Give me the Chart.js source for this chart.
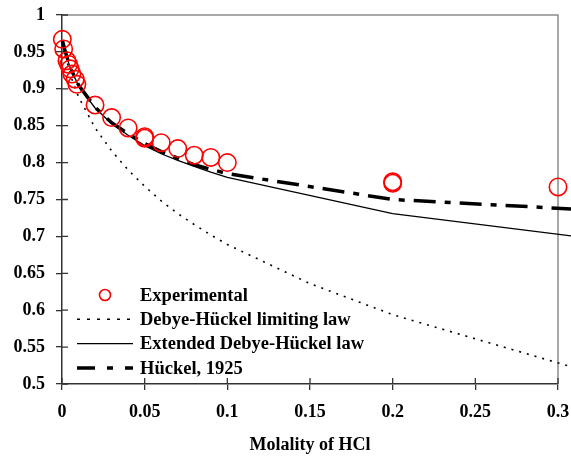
<!DOCTYPE html>
<html><head><meta charset="utf-8">
<script src="https://cdn.jsdelivr.net/npm/chart.js@4/dist/chart.umd.min.js"></script>
<style>html,body{margin:0;padding:0;background:#fff;overflow:hidden}#wrap{width:571px;height:459px;position:relative}</style>
</head><body><div id="wrap"><canvas id="c" width="571" height="459"></canvas></div>
<script>
// ---- data ----
const seriesNames = ["Experimental", "Debye-Hückel limiting law", "Extended Debye-Hückel law", "Hückel, 1925"];

const expMolality = [0.0002, 0.001, 0.003, 0.004, 0.005, 0.006, 0.008, 0.009, 0.02, 0.03, 0.04, 0.05, 0.05, 0.06, 0.07, 0.08, 0.09, 0.1, 0.2, 0.2, 0.3];
const expGamma    = [0.967, 0.954, 0.938, 0.933, 0.927, 0.920, 0.913, 0.906, 0.878, 0.861, 0.847, 0.835, 0.833, 0.827, 0.819, 0.810, 0.807, 0.800, 0.774, 0.772, 0.767];

const limitingMolality = [0.0002, 0.001, 0.002, 0.005, 0.01, 0.02, 0.03, 0.04, 0.05, 0.06, 0.07, 0.08, 0.09, 0.1, 0.15, 0.2, 0.31];
const limitingGamma    = [0.966, 0.958, 0.946, 0.919, 0.889, 0.847, 0.816, 0.790, 0.768, 0.748, 0.731, 0.716, 0.702, 0.689, 0.636, 0.594, 0.522];

const extendedMolality = [0.0002, 0.001, 0.002, 0.005, 0.01, 0.02, 0.03, 0.04, 0.05, 0.06, 0.07, 0.08, 0.09, 0.1, 0.2, 0.31];
const extendedGamma    = [0.966, 0.959, 0.950, 0.928, 0.904, 0.874, 0.853, 0.837, 0.823, 0.812, 0.803, 0.795, 0.787, 0.780, 0.731, 0.700];

const huckelMolality = [0.0002, 0.001, 0.002, 0.005, 0.01, 0.02, 0.03, 0.04, 0.05, 0.06, 0.07, 0.08, 0.09, 0.1, 0.2, 0.31];
const huckelGamma    = [0.966, 0.959, 0.950, 0.929, 0.905, 0.875, 0.854, 0.839, 0.826, 0.815, 0.806, 0.797, 0.791, 0.785, 0.750, 0.737];

const xTicks = [0, 0.05, 0.1, 0.15, 0.2, 0.25, 0.3];
const yTicks = [0.5, 0.55, 0.6, 0.65, 0.7, 0.75, 0.8, 0.85, 0.9, 0.95, 1];
const xTitle = "Molality of HCl";

// ---- chart ----
const pts = (xs, ys) => xs.map((x, i) => ({x: x, y: ys[i]}));
const FONT = '"Liberation Serif", "Times New Roman", serif';
const AXIS = '#333333';
const fmt = v => String(+v.toFixed(2));

const frame = {
  id: 'frame',
  beforeDatasetsDraw(chart) {
    const a = chart.chartArea, c = chart.ctx;
    c.save();
    c.strokeStyle = '#8c8c8c'; c.lineWidth = 1.5;
    c.beginPath();
    c.moveTo(a.left, a.top); c.lineTo(a.right, a.top); c.lineTo(a.right, a.bottom);
    c.stroke();
    // inner halves of the tick marks (ticks cross the axes)
    const xs = chart.scales.x, ys = chart.scales.y;
    c.strokeStyle = AXIS; c.lineWidth = 1.3;
    c.beginPath();
    xs.ticks.forEach(t => { const px = xs.getPixelForValue(t.value); c.moveTo(px, a.bottom); c.lineTo(px, a.bottom - 6); });
    ys.ticks.forEach(t => { const py = ys.getPixelForValue(t.value); c.moveTo(a.left, py); c.lineTo(a.left + 6, py); });
    c.stroke();
    c.restore();
  }
};

const innerLegend = {
  id: 'innerLegend',
  afterDraw(chart) {
    const a = chart.chartArea, c = chart.ctx;
    const x0 = a.left + 15, x1 = a.left + 71, tx = a.left + 78;
    let y = a.top + 280;
    c.save();
    c.font = 'bold 18.5px ' + FONT;
    c.textBaseline = 'middle';
    chart.data.datasets.forEach(d => {
      if (d.showLine === false) {
        c.beginPath(); c.strokeStyle = d.pointBorderColor; c.lineWidth = 1.6;
        c.arc((x0 + x1) / 2, y, 5.5, 0, Math.PI * 2); c.stroke();
      } else {
        c.beginPath(); c.strokeStyle = d.borderColor; c.lineWidth = d.borderWidth;
        c.setLineDash(d.legendDash || d.borderDash || []);
        c.moveTo(x0, y); c.lineTo(x1, y); c.stroke(); c.setLineDash([]);
      }
      c.fillStyle = '#000';
      c.fillText(d.label, tx, y + 1);
      y += 24.3;
    });
    c.restore();
  }
};

new Chart(document.getElementById('c'), {
  type: 'line',
  data: {
    datasets: [
      { label: seriesNames[0], data: pts(expMolality, expGamma), showLine: false,
        pointRadius: 8.7, pointHoverRadius: 8.7, pointBorderWidth: 1.6,
        pointBorderColor: '#ff0000', pointBackgroundColor: 'rgba(0,0,0,0)', borderColor: '#ff0000', clip: false },
      { label: seriesNames[1], data: pts(limitingMolality, limitingGamma), borderColor: '#000', borderWidth: 1.6,
        borderDash: [2, 6], legendDash: [3, 7], pointRadius: 0, tension: 0, clip: false },
      { label: seriesNames[2], data: pts(extendedMolality, extendedGamma), borderColor: '#000', borderWidth: 1.3,
        pointRadius: 0, tension: 0, clip: false },
      { label: seriesNames[3], data: pts(huckelMolality, huckelGamma), borderColor: '#000', borderWidth: 3.5,
        borderDash: [22, 9, 6, 9], legendDash: [18, 12, 6, 12], pointRadius: 0, tension: 0, clip: false }
    ]
  },
  options: {
    responsive: false, animation: false, devicePixelRatio: 1,
    layout: { padding: { top: 15, right: 13, left: 0, bottom: 0 } },
    plugins: { legend: { display: false }, tooltip: { enabled: false } },
    scales: {
      x: {
        type: 'linear', min: 0, max: 0.3,
        afterBuildTicks: s => { s.ticks = xTicks.map(v => ({value: v})); },
        afterFit: s => { s.height = 75; s.paddingLeft = 0; s.paddingRight = 0; },
        grid: { drawOnChartArea: false, drawTicks: true, tickLength: 6, color: AXIS, lineWidth: 1.3 },
        border: { color: AXIS, width: 1.5 },
        ticks: { callback: v => fmt(v), color: '#000', padding: 12, maxRotation: 0,
                 font: { family: FONT, size: 18, weight: 'bold' } },
        title: { display: true, text: xTitle, color: '#000', padding: { top: 0, bottom: 3 },
                 font: { family: FONT, size: 18, weight: 'bold' } }
      },
      y: {
        type: 'linear', min: 0.5, max: 1,
        afterBuildTicks: s => { s.ticks = yTicks.map(v => ({value: v})); },
        afterFit: s => { s.width = 62; s.paddingTop = 0; s.paddingBottom = 0; },
        grid: { drawOnChartArea: false, drawTicks: true, tickLength: 6, color: AXIS, lineWidth: 1.3 },
        border: { color: AXIS, width: 1.5 },
        ticks: { callback: v => fmt(v), color: '#000', padding: 11,
                 font: { family: FONT, size: 18, weight: 'bold' } }
      }
    }
  },
  plugins: [frame, innerLegend]
});
</script></body></html>
